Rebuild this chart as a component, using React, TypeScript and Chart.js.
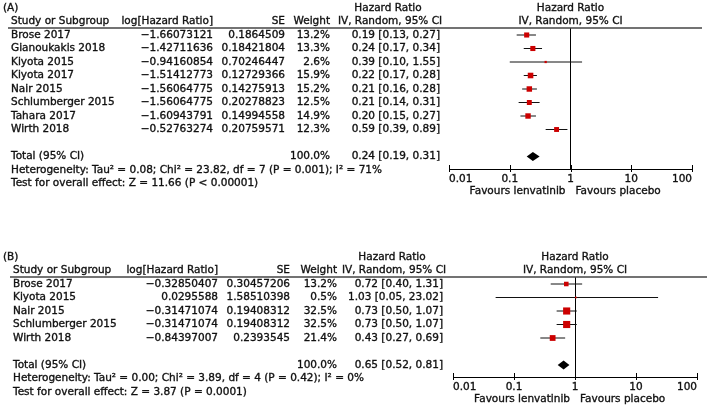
import React, { useEffect, useRef } from "react";
import { Chart, registerables } from "chart.js";
Chart.register(...registerables);

// ---------- Panel A data ----------
const studiesA = ["Brose 2017", "Gianoukakis 2018", "Kiyota 2015", "Kiyota 2017", "Nair 2015", "Schlumberger 2015", "Tahara 2017", "Wirth 2018"];
const logHrA = [-1.66073121, -1.42711636, -0.94160854, -1.51412773, -1.56064775, -1.56064775, -1.60943791, -0.52763274];
const seA = [0.1864509, 0.18421804, 0.70246447, 0.12729366, 0.14275913, 0.20278823, 0.14994558, 0.20759571];
const weightA = [13.2, 13.3, 2.6, 15.9, 15.2, 12.5, 14.9, 12.3];
const hrA = [0.19, 0.24, 0.39, 0.22, 0.21, 0.21, 0.2, 0.59];
const loA = [0.13, 0.17, 0.1, 0.17, 0.16, 0.14, 0.15, 0.39];
const hiA = [0.27, 0.34, 1.55, 0.28, 0.28, 0.31, 0.27, 0.89];
const totalA = [0.24, 0.19, 0.31]; // estimate, lower, upper
const hetA = "Heterogeneity: Tau\u00b2 = 0.08; Chi\u00b2 = 23.82, df = 7 (P = 0.001); I\u00b2 = 71%";
const testA = "Test for overall effect: Z = 11.66 (P < 0.00001)";

// ---------- Panel B data ----------
const studiesB = ["Brose 2017", "Kiyota 2015", "Nair 2015", "Schlumberger 2015", "Wirth 2018"];
const logHrB = [-0.32850407, 0.0295588, -0.31471074, -0.31471074, -0.84397007];
const seB = [0.30457206, 1.58510398, 0.19408312, 0.19408312, 0.2393545];
const weightB = [13.2, 0.5, 32.5, 32.5, 21.4];
const hrB = [0.72, 1.03, 0.73, 0.73, 0.43];
const loB = [0.4, 0.05, 0.5, 0.5, 0.27];
const hiB = [1.31, 23.02, 1.07, 1.07, 0.69];
const totalB = [0.65, 0.52, 0.81];
const hetB = "Heterogeneity: Tau\u00b2 = 0.00; Chi\u00b2 = 3.89, df = 4 (P = 0.42); I\u00b2 = 0%";
const testB = "Test for overall effect: Z = 3.87 (P = 0.0001)";

// ---------- shared labels ----------
const xTicks = [0.01, 0.1, 1, 10, 100];
const headerStudy = "Study or Subgroup";
const headerLogHr = "log[Hazard Ratio]";
const headerSe = "SE";
const headerWeight = "Weight";
const headerHr1 = "Hazard Ratio";
const headerHr2 = "IV, Random, 95% CI";
const totalLabel = "Total (95% CI)";
const totalWeight = "100.0%";
const favoursLeft = "Favours lenvatinib";
const favoursRight = "Favours placebo";

const FONT_FAMILY = "'DejaVu Sans', sans-serif";
const FONT_SIZE = 10.5;
const TEXT_COLOR = "#111";
const TEXT_STROKE = 0.35;
const BOX_COLOR = "#cc0000";
const ROW_PITCH = 13.5;
const RULE_Y = 28;
const FIRST_ROW_OFFSET = 7;

type Layout = {
  top: number; height: number; axisY: number; tagX: number; nameX: number; logHrX: number; seX: number;
  weightX: number; hrX: number; hrHeadX: number; plotLeft: number; plotRight: number; ruleLeft: number;
  ruleRight: number; boxK: number;
};

type Panel = {
  tag: string; studies: string[]; logHr: number[]; se: number[]; weight: number[]; hr: number[];
  lo: number[]; hi: number[]; total: number[]; het: string; test: string; layout: Layout;
};

const panels: Panel[] = [
  {
    tag: "(A)", studies: studiesA, logHr: logHrA, se: seA, weight: weightA, hr: hrA, lo: loA, hi: hiA,
    total: totalA, het: hetA, test: testA,
    layout: { top: 0, height: 200, axisY: 169, tagX: 3, nameX: 11, logHrX: 213, seX: 285, weightX: 330, hrX: 440, hrHeadX: 388,
      plotLeft: 449, plotRight: 692, ruleLeft: 8, ruleRight: 702, boxK: 1.4 },
  },
  {
    tag: "(B)", studies: studiesB, logHr: logHrB, se: seB, weight: weightB, hr: hrB, lo: loB, hi: hiB,
    total: totalB, het: hetB, test: testB,
    layout: { top: 249, height: 156, axisY: 128, tagX: 3, nameX: 13, logHrX: 218, seX: 290, weightX: 337, hrX: 443, hrHeadX: 392,
      plotLeft: 453, plotRight: 697, ruleLeft: 10, ruleRight: 707, boxK: 1.25 },
  },
];

const fmtLog = (v: number) => String(v).replace("-", "\u2212");
const fmtHr = (e: number, l: number, h: number) => `${e.toFixed(2)} [${l.toFixed(2)}, ${h.toFixed(2)}]`;

function ForestPanel({ panel }: { panel: Panel }) {
  const ref = useRef<HTMLCanvasElement | null>(null);
  useEffect(() => {
    if (!ref.current) return;
    const L = panel.layout;
    const n = panel.studies.length;
    const totalIdx = n + 1;
    const yMin = -FIRST_ROW_OFFSET / ROW_PITCH;
    const yMax = yMin + (L.axisY - RULE_Y) / ROW_PITCH;

    const boxes = panel.hr.map((v, i) => ({ x: v, y: i }));
    const whiskers = panel.studies.map((s, i) => ({
      label: s,
      data: [{ x: panel.lo[i], y: i }, { x: panel.hi[i], y: i }],
      showLine: true,
      borderColor: "#111",
      borderWidth: 1,
      pointRadius: 0,
      clip: false as any,
    }));

    const tablePlugin = {
      id: "forestTable",
      afterDatasetsDraw(chart: any) {
        const ctx = chart.ctx as CanvasRenderingContext2D;
        const xs = chart.scales.x;
        const ys = chart.scales.y;
        const Y = (i: number) => ys.getPixelForValue(i);
        const [est, lo, hi] = panel.total;
        const d = 4.5 / ROW_PITCH;
        ctx.save();
        ctx.fillStyle = "#000";
        ctx.beginPath();
        ctx.moveTo(xs.getPixelForValue(lo), Y(totalIdx));
        ctx.lineTo(xs.getPixelForValue(est), Y(totalIdx - d));
        ctx.lineTo(xs.getPixelForValue(hi), Y(totalIdx));
        ctx.lineTo(xs.getPixelForValue(est), Y(totalIdx + d));
        ctx.closePath();
        ctx.fill();
        ctx.restore();
      },
      afterDraw(chart: any) {
        const ctx = chart.ctx as CanvasRenderingContext2D;
        const xs = chart.scales.x;
        const ys = chart.scales.y;
        const area = chart.chartArea;
        const Y = (i: number) => ys.getPixelForValue(i);
        ctx.save();
        ctx.font = `${FONT_SIZE}px ${FONT_FAMILY}`;
        ctx.fillStyle = TEXT_COLOR;
        ctx.strokeStyle = TEXT_COLOR;
        ctx.lineWidth = TEXT_STROKE;
        ctx.textBaseline = "middle";
        const put = (t: string, x: number, y: number, align: CanvasTextAlign) => {
          ctx.textAlign = align;
          ctx.fillText(t, x, y);
          ctx.strokeText(t, x, y);
        };
        const plotCenter = (area.left + area.right) / 2;
        // headers
        put(panel.tag, L.tagX, Y(-2), "left");
        put(headerHr1, L.hrHeadX, Y(-2), "center");
        put(headerHr1, plotCenter, Y(-2), "center");
        put(headerStudy, L.nameX, Y(-1), "left");
        put(headerLogHr, L.logHrX, Y(-1), "right");
        put(headerSe, L.seX, Y(-1), "right");
        put(headerWeight, L.weightX, Y(-1), "right");
        put(headerHr2, L.hrHeadX + 2, Y(-1), "center");
        put(headerHr2, plotCenter, Y(-1), "center");
        // rows
        panel.studies.forEach((s, i) => {
          put(s, L.nameX, Y(i), "left");
          put(fmtLog(panel.logHr[i]), L.logHrX, Y(i), "right");
          put(String(panel.se[i]), L.seX, Y(i), "right");
          put(panel.weight[i].toFixed(1) + "%", L.weightX, Y(i), "right");
          put(fmtHr(panel.hr[i], panel.lo[i], panel.hi[i]), L.hrX, Y(i), "right");
        });
        put(totalLabel, L.nameX, Y(totalIdx), "left");
        put(totalWeight, L.weightX, Y(totalIdx), "right");
        put(fmtHr(panel.total[0], panel.total[1], panel.total[2]), L.hrX, Y(totalIdx), "right");
        put(panel.het, L.nameX, Y(totalIdx + 1), "left");
        put(panel.test, L.nameX, Y(totalIdx + 2), "left");
        // favours labels
        const one = xs.getPixelForValue(1);
        put(favoursLeft, one - 5, area.bottom + 22, "right");
        put(favoursRight, one + 5, area.bottom + 22, "left");
        // header rule
        ctx.strokeStyle = "#444";
        ctx.lineWidth = 1.5;
        ctx.beginPath();
        ctx.moveTo(L.ruleLeft, area.top);
        ctx.lineTo(L.ruleRight, area.top);
        ctx.stroke();
        // axis tick marks
        ctx.strokeStyle = "#000";
        ctx.lineWidth = 1;
        xTicks.forEach((t) => {
          const px = Math.round(xs.getPixelForValue(t)) + 0.5;
          ctx.beginPath();
          ctx.moveTo(px, area.bottom - 4);
          ctx.lineTo(px, area.bottom + 3);
          ctx.stroke();
        });
        ctx.restore();
      },
    };

    const chart = new Chart(ref.current, {
      type: "scatter",
      data: {
        datasets: [
          {
            label: "HR",
            data: boxes,
            pointStyle: "rect",
            backgroundColor: BOX_COLOR,
            borderColor: BOX_COLOR,
            pointBorderWidth: 0,
            pointRadius: (c: any) => Math.max(1.2, (L.boxK * Math.sqrt(panel.weight[c.dataIndex])) / Math.SQRT2),
            clip: false as any,
          } as any,
          ...whiskers,
        ],
      },
      options: {
        animation: false,
        responsive: false,
        events: [],
        layout: { padding: { left: L.plotLeft, right: 709 - L.plotRight, top: RULE_Y, bottom: 0 } },
        plugins: { legend: { display: false }, tooltip: { enabled: false } },
        scales: {
          x: {
            type: "logarithmic",
            min: 0.01,
            max: 100,
            afterBuildTicks: (s: any) => {
              s.ticks = xTicks.map((v) => ({ value: v }));
            },
            afterFit: (s: any) => {
              s.height = L.height - L.axisY;
            },
            ticks: {
              autoSkip: false,
              maxRotation: 0,
              align: "inner",
              padding: 4,
              color: TEXT_COLOR,
              textStrokeColor: TEXT_COLOR,
              textStrokeWidth: TEXT_STROKE,
              font: { family: FONT_FAMILY, size: FONT_SIZE },
              callback: (v: any) => String(v),
            },
            grid: {
              drawTicks: false,
              lineWidth: 1,
              color: (c: any) => (c.tick && c.tick.value === 1 ? "#000" : "rgba(0,0,0,0)"),
            },
            border: { display: true, color: "#000", width: 1 },
          } as any,
          y: {
            type: "linear",
            display: false,
            reverse: true,
            min: yMin,
            max: yMax,
          },
        },
      },
      plugins: [tablePlugin],
    });
    return () => chart.destroy();
  }, [panel]);
  const L = panel.layout;
  return (
    <canvas
      ref={ref}
      width={709}
      height={L.height}
      style={{ position: "absolute", left: 0, top: L.top, width: 709, height: L.height }}
    />
  );
}

export default function App() {
  return (
    <div style={{ position: "absolute", left: 0, top: 0, width: 709, height: 405, background: "#fff" }}>
      {panels.map((p) => (
        <ForestPanel key={p.tag} panel={p} />
      ))}
    </div>
  );
}
